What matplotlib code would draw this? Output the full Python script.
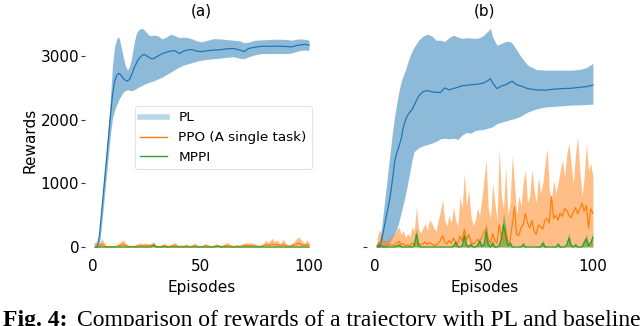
import matplotlib
matplotlib.use("Agg")
import matplotlib.pyplot as plt
from matplotlib.lines import Line2D

# ---------------- data ----------------
episodes = list(range(1, 101))

# Panel (a) PL
pl_a_ep = [1, 2, 3, 4, 5, 6, 7, 8, 9, 10, 11, 12, 13, 14, 15, 16, 17, 18, 19, 20, 21, 22, 23, 24, 25, 26, 27, 28,
           30, 32, 34, 36, 38, 40, 42, 44, 46, 48, 50, 53, 56, 59, 62, 65, 68, 70, 72, 75, 78, 81, 84, 87, 90,
           92, 94, 96, 98, 100]
pl_a_mean = [0, 0, 185, 550, 920, 1290, 1660, 2030, 2380, 2600, 2700, 2730, 2700, 2650, 2620, 2610, 2640, 2720,
             2810, 2880, 2950, 2990, 3020, 3025, 3000, 2980, 2960, 2960, 3000, 3040, 3060, 3080, 3085, 3040, 3080,
             3100, 3100, 3080, 3070, 3085, 3095, 3100, 3115, 3120, 3095, 3070, 3120, 3140, 3155, 3155, 3155, 3155,
             3150, 3145, 3165, 3175, 3185, 3175]
pl_a_up = [0, 0, 250, 650, 1050, 1400, 1850, 2300, 2850, 3150, 3280, 3300, 3150, 2990, 2850, 2780, 2850, 3000,
           3200, 3350, 3410, 3430, 3435, 3400, 3360, 3330, 3320, 3330, 3320, 3270, 3300, 3345, 3320, 3290, 3300,
           3290, 3270, 3240, 3225, 3250, 3275, 3270, 3260, 3250, 3240, 3210, 3220, 3250, 3255, 3260, 3265, 3265,
           3260, 3250, 3265, 3270, 3265, 3250]
pl_a_low = [0, 0, 50, 350, 700, 1050, 1400, 1750, 2020, 2150, 2240, 2320, 2380, 2430, 2460, 2470, 2460, 2460,
            2470, 2490, 2510, 2530, 2545, 2560, 2575, 2590, 2600, 2610, 2640, 2670, 2710, 2750, 2790, 2830, 2860,
            2880, 2900, 2920, 2935, 2950, 2960, 2970, 2980, 2990, 2965, 2960, 2990, 3020, 3040, 3040, 3040, 3040,
            3040, 3050, 3070, 3090, 3095, 3090]

# Panel (a) PPO
ppo_a_up = [110, 60, 40, 136, 80, 20, 10, 15, 10, 20, 30, 60, 90, 110, 70, 30, 20, 10, 20, 40,
            60, 60, 55, 60, 60, 55, 60, 85, 40, 20, 15, 40, 60, 30, 20, 40, 60, 70, 40, 20,
            30, 20, 50, 30, 20, 40, 60, 40, 20, 15, 30, 60, 40, 20, 10, 30, 50, 40, 20, 30,
            50, 70, 50, 30, 20, 30, 40, 20, 50, 60, 70, 60, 70, 60, 50, 30, 20, 40, 60, 110,
            70, 100, 136, 90, 110, 80, 60, 125, 70, 40, 30, 60, 80, 120, 162, 130, 90, 60, 110, 80]
ppo_a_mean = [40, 20, 10, 50, 25, 5, 3, 5, 3, 6, 10, 20, 30, 40, 25, 10, 6, 3, 6, 12,
              20, 20, 18, 20, 20, 18, 20, 30, 12, 6, 5, 12, 20, 10, 6, 12, 20, 24, 12, 6,
              10, 6, 16, 10, 6, 12, 20, 12, 6, 5, 10, 20, 12, 6, 3, 10, 16, 12, 6, 10,
              16, 24, 16, 10, 6, 10, 12, 6, 16, 20, 24, 20, 24, 20, 16, 10, 6, 12, 20, 40,
              24, 35, 50, 30, 40, 28, 20, 45, 24, 12, 10, 20, 28, 42, 60, 45, 30, 20, 40, 28]
ppo_a_low = [0] * 100

# Panel (a) MPPI
mppi_a_mean = [0, 0, 0, 0, 0, 0, 0, 0, 0, 0, 0, 0, 0, 0, 0, 0, 0, 10, 0, 0,
               0, 0, 0, 0, 0, 0, 5, 30, 5, 0, 0, 0, 8, 0, 0, 0, 0, 0, 0, 0,
               0, 0, 0, 0, 0, 0, 0, 0, 0, 0, 0, 0, 0, 0, 0, 0, 5, 15, 0, 0,
               0, 0, 0, 0, 0, 0, 0, 0, 0, 0, 0, 0, 0, 0, 0, 0, 0, 0, 0, 0,
               0, 0, 0, 0, 0, 0, 0, 0, 0, 0, 0, 0, 0, 0, 0, 0, 0, 0, 0, 0]
mppi_a_up = [0, 0, 0, 0, 0, 0, 0, 0, 0, 0, 0, 0, 0, 0, 0, 0, 10, 25, 10, 0,
             0, 0, 0, 0, 0, 0, 20, 60, 20, 0, 0, 10, 20, 10, 0, 0, 0, 0, 0, 0,
             0, 0, 0, 0, 0, 0, 0, 0, 0, 0, 0, 0, 0, 0, 0, 0, 15, 30, 10, 0,
             0, 0, 0, 0, 0, 0, 0, 0, 0, 0, 0, 0, 0, 0, 0, 0, 0, 0, 0, 0,
             0, 0, 0, 0, 0, 0, 0, 0, 0, 0, 0, 0, 0, 0, 0, 0, 0, 0, 0, 0]
mppi_a_low = [0] * 100

# Panel (b) PL
pl_b_ep = [1, 2, 3, 4, 5, 6, 7, 8, 9, 10, 11, 12, 13, 14, 15, 16, 17, 18, 20, 22, 24, 26, 28, 30, 32, 34, 36, 38,
           40, 42, 44, 46, 48, 50, 52, 53, 54, 56, 58, 60, 62, 63, 65, 67, 70, 74, 78, 82, 86, 90, 94, 97, 100]
pl_b_mean = [0, 0, 100, 270, 450, 620, 800, 1050, 1330, 1480, 1580, 1700, 1880, 2000, 2070, 2120, 2160, 2230,
             2370, 2440, 2460, 2440, 2430, 2430, 2500, 2470, 2490, 2510, 2535, 2540, 2550, 2555, 2565, 2580,
             2620, 2645, 2580, 2490, 2530, 2550, 2590, 2605, 2550, 2530, 2490, 2470, 2465, 2480, 2490, 2495,
             2510, 2520, 2545]
pl_b_up = [0, 80, 300, 600, 900, 1200, 1500, 1800, 2050, 2260, 2450, 2600, 2700, 2780, 2900, 3000, 3080, 3145,
           3250, 3315, 3345, 3320, 3250, 3250, 3230, 3290, 3330, 3300, 3280, 3290, 3285, 3280, 3290, 3330,
           3400, 3435, 3300, 3170, 3200, 3230, 3230, 3200, 3100, 2990, 2860, 2790, 2780, 2780, 2780, 2780,
           2790, 2820, 2885]
pl_b_low = [0, 0, 0, 0, 0, 30, 90, 150, 210, 280, 400, 540, 680, 820, 1000, 1180, 1370, 1500,
            1560, 1590, 1610, 1630, 1660, 1700, 1710, 1700, 1710, 1690, 1760, 1800, 1790, 1830, 1840, 1850,
            1870, 1880, 1890, 1940, 1960, 1980, 2000, 2010, 2030, 2060, 2120, 2170, 2200, 2210, 2220, 2230,
            2235, 2240, 2245]

# Panel (b) PPO
ppo_b_up = [150, 270, 200, 120, 100, 110, 150, 180, 210, 260, 320, 200, 260, 150, 210, 160, 320, 250, 630, 280,
            220, 300, 370, 260, 425, 380, 300, 250, 420, 560, 740, 420, 330, 500, 380, 630, 420, 330, 790, 600,
            1160, 650, 900, 500, 340, 420, 610, 500, 740, 1050, 1370, 600, 450, 1000, 700, 420, 1550, 800, 600, 1260,
            500, 700, 1440, 1000, 500, 800, 650, 1000, 1210, 700, 800, 1210, 900, 700, 1100, 850, 1000, 1300, 1550, 900,
            750, 1050, 850, 1000, 1200, 1370, 1100, 1450, 1630, 1300, 1000, 1450, 1730, 1200, 800, 1100, 1630, 1200, 1320, 1100]
ppo_b_mean = [30, 80, 40, 20, 10, 20, 40, 30, 20, 60, 90, 40, 50, 20, 30, 20, 60, 40, 150, 60,
              30, 50, 80, 40, 70, 50, 30, 20, 60, 100, 180, 80, 50, 100, 60, 140, 80, 50, 170, 90,
              280, 110, 200, 90, 50, 70, 120, 80, 150, 220, 300, 120, 60, 210, 100, 60, 350, 150, 90, 280,
              80, 120, 350, 630, 200, 180, 300, 350, 530, 380, 300, 420, 250, 200, 350, 320, 280, 420, 450, 380,
              790, 450, 500, 420, 530, 480, 600, 580, 500, 460, 550, 620, 520, 600, 690, 560, 650, 300, 600, 530]
ppo_b_low = [0] * 100

# Panel (b) MPPI
mppi_b_mean = [10, 40, 10, 0, 0, 0, 0, 0, 0, 10, 30, 5, 0, 0, 0, 0, 0, 20, 200, 20,
               0, 0, 0, 0, 0, 0, 0, 0, 0, 0, 0, 0, 0, 0, 0, 10, 70, 5, 0, 20,
               170, 20, 0, 40, 0, 0, 20, 90, 10, 30, 240, 30, 0, 60, 0, 0, 20, 120, 350, 180,
               20, 60, 0, 0, 0, 0, 0, 40, 0, 0, 0, 0, 0, 0, 0, 0, 60, 0, 0, 0,
               0, 0, 0, 40, 0, 0, 0, 30, 140, 20, 0, 30, 0, 0, 0, 70, 120, 20, 60, 150]
mppi_b_up = [40, 80, 30, 0, 0, 0, 0, 0, 0, 30, 60, 20, 0, 0, 0, 0, 10, 60, 300, 60,
             0, 0, 0, 0, 0, 0, 0, 0, 0, 0, 0, 0, 0, 0, 10, 40, 120, 30, 10, 60,
             280, 60, 20, 80, 10, 10, 60, 150, 40, 80, 400, 80, 20, 110, 10, 10, 80, 250, 530, 320,
             60, 110, 10, 0, 0, 0, 20, 80, 20, 0, 0, 0, 0, 0, 20, 40, 110, 30, 0, 0,
             0, 0, 20, 80, 20, 0, 10, 70, 220, 60, 10, 70, 10, 0, 20, 130, 200, 60, 110, 230]
mppi_b_low = [0] * 100

labels = ["PL", "PPO (A single task)", "MPPI"]
titles = ["(a)", "(b)"]
xticks = [0, 50, 100]
yticks = [0, 1000, 2000, 3000]
caption_bold = "Fig. 4:"
caption_text = "Comparison of rewards of a trajectory with PL and baseline"

# ---------------- style ----------------
C_BLUE = "#1f77b4"
C_ORANGE = "#ff7f0e"
C_GREEN = "#2ca02c"

plt.rcParams["font.family"] = ["DejaVu Sans"]

fig = plt.figure(figsize=(6.4, 3.26), dpi=100)
ax1 = fig.add_axes([0.1335, 0.2227, 0.3628, 0.693])
ax2 = fig.add_axes([0.574, 0.2227, 0.366, 0.693])


def draw(ax, pl_ep, pl_m, pl_lo, pl_hi, ppo_m, ppo_lo, ppo_hi, mp_m, mp_lo, mp_hi):
    ax.fill_between(pl_ep, pl_lo, pl_hi, color=C_BLUE, alpha=0.5, linewidth=0)
    ax.plot(pl_ep, pl_m, color=C_BLUE, lw=0.9)
    ax.fill_between(episodes, ppo_lo, ppo_hi, color=C_ORANGE, alpha=0.5, linewidth=0)
    ax.plot(episodes, ppo_m, color=C_ORANGE, lw=0.9)
    ax.fill_between(episodes, mp_lo, mp_hi, color=C_GREEN, alpha=0.5, linewidth=0)
    ax.plot(episodes, mp_m, color=C_GREEN, lw=0.9)
    ax.set_xlim(-3.5, 104)
    ax.set_ylim(-100, 3450)
    for s in ax.spines.values():
        s.set_visible(False)
    ax.set_xticks(xticks)
    ax.tick_params(axis="x", length=0, labelsize=11, pad=4)
    ax.tick_params(axis="y", length=3, width=0.8, color="#333333", labelsize=11, pad=1.5)
    ax.set_xlabel("Episodes", fontsize=11, labelpad=4)


draw(ax1, pl_a_ep, pl_a_mean, pl_a_low, pl_a_up, ppo_a_mean, ppo_a_low, ppo_a_up,
     mppi_a_mean, mppi_a_low, mppi_a_up)
draw(ax2, pl_b_ep, pl_b_mean, pl_b_low, pl_b_up, ppo_b_mean, ppo_b_low, ppo_b_up,
     mppi_b_mean, mppi_b_low, mppi_b_up)

ax1.set_yticks(yticks)
ax1.set_ylabel("Rewards", fontsize=11, labelpad=2)
ax2.set_yticks([0])
ax2.set_yticklabels([""])

ax1.set_title(titles[0], fontsize=11, pad=8.5)
ax2.set_title(titles[1], fontsize=11, pad=8.5)

handles = [Line2D([], [], color=C_BLUE, alpha=0.3, lw=4),
           Line2D([], [], color=C_ORANGE, lw=1),
           Line2D([], [], color=C_GREEN, lw=1)]
leg = ax1.legend(handles, labels, loc="upper left", bbox_to_anchor=(0.2136, 0.652),
                 borderaxespad=0, fontsize=9.7, frameon=True, fancybox=True,
                 handlelength=2.0, labelspacing=0.5)
leg.get_frame().set_edgecolor("#dddddd")
leg.get_frame().set_linewidth(0.8)

fig.text(3 / 640, -0.001, caption_bold, fontsize=17, fontweight="bold",
         family=["Liberation Serif", "DejaVu Serif"], va="baseline", ha="left")
fig.text(77 / 640, -0.001, caption_text, fontsize=17,
         family=["Liberation Serif", "DejaVu Serif"], va="baseline", ha="left")

fig.savefig("out.png", dpi=100)
